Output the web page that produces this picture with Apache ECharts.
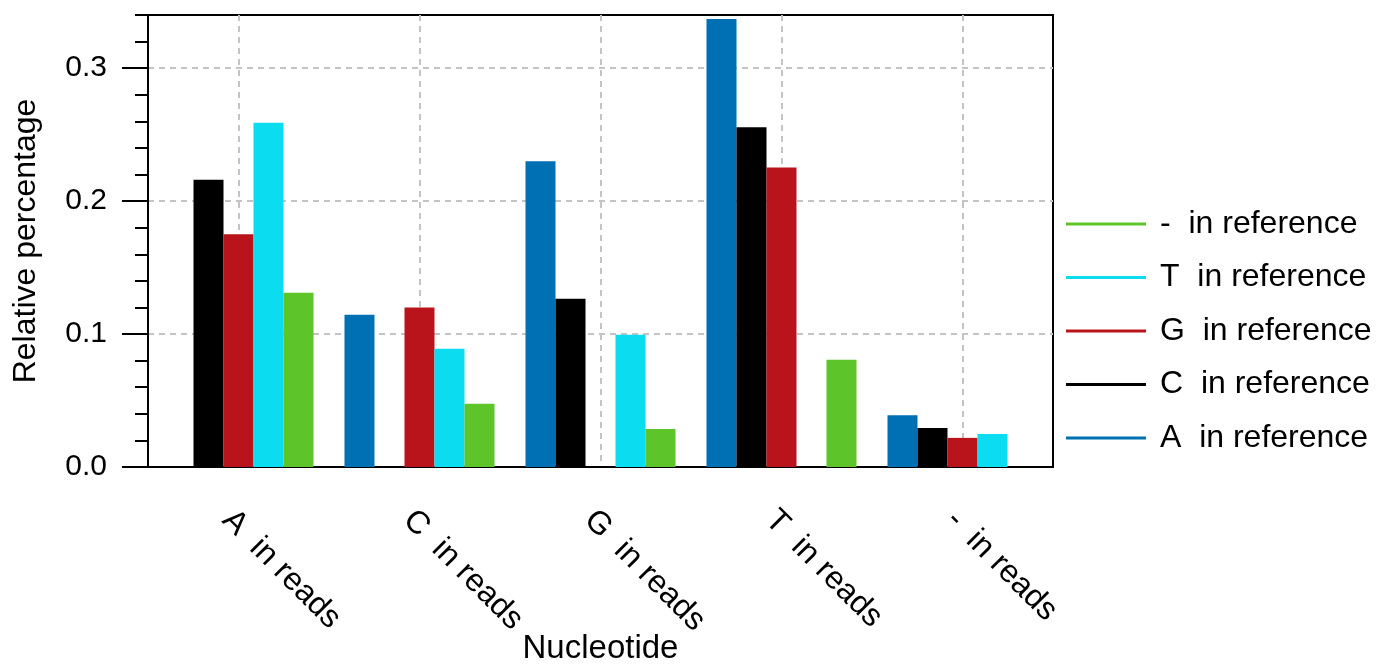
<!DOCTYPE html>
<html>
<head>
<meta charset="utf-8">
<script src="https://cdn.jsdelivr.net/npm/echarts@6/dist/echarts.min.js"></script>
<style>
html,body{margin:0;padding:0;background:#fff;}
#chart{width:1376px;height:666px;}
</style>
</head>
<body>
<div id="chart"></div>
<script>
const categories = ['A  in reads', 'C  in reads', 'G  in reads', 'T  in reads', '-  in reads'];
const seriesNames = ['A  in reference', 'C  in reference', 'G  in reference', 'T  in reference', '-  in reference'];
const aInRef = [0, 0.1145, 0.230, 0.337, 0.039];
const cInRef = [0.216, 0, 0.1266, 0.2555, 0.0294];
const gInRef = [0.175, 0.120, 0, 0.2253, 0.0219];
const tInRef = [0.259, 0.089, 0.0995, 0, 0.0249];
const gapInRef = [0.131, 0.0475, 0.0286, 0.0806, 0];
const yTicks = [0, 0.1, 0.2, 0.3];
const legendOrder = ['-  in reference', 'T  in reference', 'G  in reference', 'C  in reference', 'A  in reference'];

const colors = ['#0070b4', '#000000', '#b9141b', '#0cdcf0', '#5dc42a'];
const values = [aInRef, cInRef, gInRef, tInRef, gapInRef];
const FONT = 'Liberation Sans, Arial, Helvetica, sans-serif';

const chart = echarts.init(document.getElementById('chart'));
chart.setOption({
  animation: false,
  backgroundColor: '#fff',
  textStyle: { fontFamily: FONT },
  grid: { left: 148, top: 15, width: 905, height: 452, outerBoundsMode: 'none', containLabel: false,
          show: true, borderColor: '#000', borderWidth: 2, backgroundColor: 'transparent' },
  legend: {
    orient: 'vertical', left: 1061, top: 203,
    data: legendOrder.map(n => ({ name: n, icon: 'rect' })),
    itemWidth: 80, itemHeight: 3, itemGap: 21.5,
    textStyle: { fontFamily: FONT, fontSize: 32, color: '#000', lineHeight: 32, padding: [0, 0, 0, 9] }
  },
  xAxis: {
    type: 'category', data: categories,
    axisLine: { show: true, lineStyle: { color: '#000', width: 2 } },
    axisTick: { show: false },
    splitLine: { show: true, alignWithLabel: true, lineStyle: { color: '#c4c4c4', width: 2, type: [6, 5] } },
    axisLabel: { rotate: -45, fontSize: 32, color: '#000', fontFamily: FONT, margin: 37, interval: 0, verticalAlign: 'top' },
    name: 'Nucleotide', nameLocation: 'middle', nameGap: 165, nameMoveOverlap: false,
    nameTextStyle: { fontSize: 33, color: '#000', fontFamily: FONT, verticalAlign: 'top' }
  },
  yAxis: [{
    type: 'value', min: 0, max: 0.34, interval: 0.1,
    axisLine: { show: true, lineStyle: { color: '#000', width: 2 } },
    axisTick: { show: true, length: 26, customValues: yTicks, lineStyle: { color: '#000', width: 2 } },
    axisLabel: { customValues: yTicks, fontSize: 30, color: '#000', fontFamily: FONT, margin: 41, formatter: v => v.toFixed(1) },
    splitLine: { show: true, lineStyle: { color: '#c4c4c4', width: 2, type: [6, 5] } },
    name: 'Relative percentage', nameLocation: 'middle', nameGap: 106, nameMoveOverlap: false,
    nameTextStyle: { fontSize: 32, color: '#000', fontFamily: FONT }
  }, {
    type: 'value', min: 0, max: 0.34, interval: 0.02, position: 'left',
    axisLine: { show: false },
    axisTick: { show: true, length: 13, lineStyle: { color: '#000', width: 2 } },
    axisLabel: { show: false },
    splitLine: { show: false }
  }],
  series: seriesNames.map((n, i) => ({
    name: n, type: 'bar', data: values[i], yAxisIndex: 0,
    barWidth: 30, barGap: '0%',
    itemStyle: { color: colors[i] }
  }))
});
</script>
</body>
</html>
